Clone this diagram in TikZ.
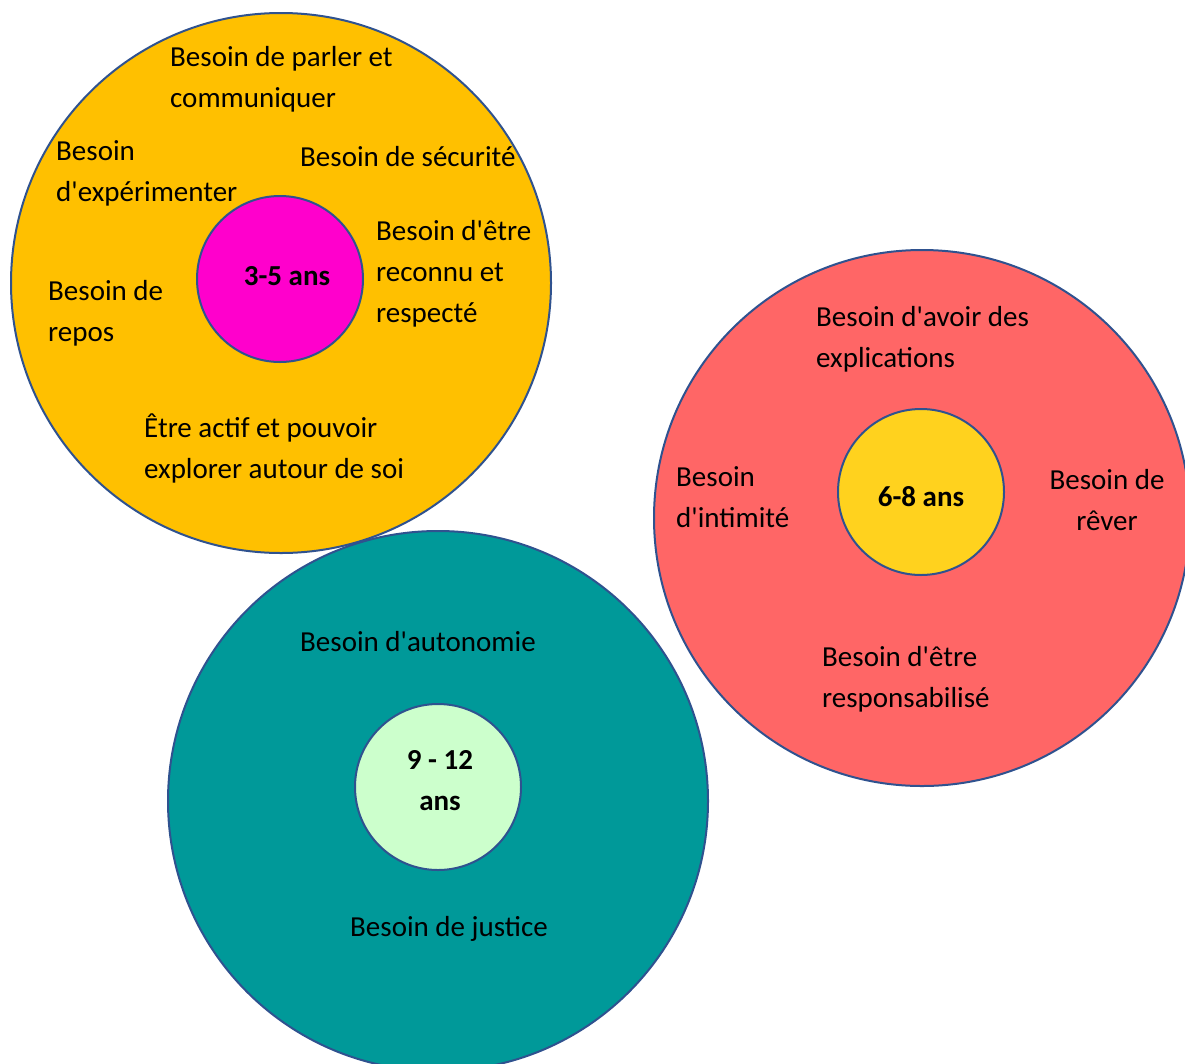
\documentclass[tikz,border=0pt]{standalone}
\usepackage{fontspec}
\setmainfont{Carlito}[Ligatures=TeXOff]
\definecolor{ringline}{RGB}{47,82,143}
\definecolor{orangefill}{RGB}{255,192,0}
\definecolor{magentafill}{RGB}{255,0,204}
\definecolor{coralfill}{RGB}{255,102,102}
\definecolor{yellowfill}{RGB}{255,210,30}
\definecolor{tealfill}{RGB}{0,153,153}
\definecolor{mintfill}{RGB}{204,255,204}
\begin{document}
\begin{tikzpicture}[x=1pt,y=-1pt]
\tikzstyle{ring} = [circle, draw=ringline, line width=2pt, minimum size=540pt, inner sep=0]
\tikzstyle{core} = [circle, draw=ringline, line width=2pt, minimum size=166pt, inner sep=0]
\tikzstyle{need} = [align=left, anchor=base west, inner sep=0, font=\fontsize{29}{41}\selectfont]
\tikzstyle{age} = [align=center, inner sep=0, font=\fontsize{29}{41}\selectfont\bfseries]

\useasboundingbox (0,0) rectangle (1185,1063);
\clip (0,0) rectangle (1185,1063);

% 3-5 ans (base = last line)
\node(ring35)[ring, fill=orangefill] at (281,283) {};
\node(core35)[core, fill=magentafill] at (280,279) {};
\node(age35)[age, xshift=7pt, yshift=3pt] at (core35) {3-5 ans};
\node(talk)[need] at (170,107.7) {Besoin de parler et\\communiquer};
\node(explore)[need] at (56,201.5) {Besoin\\d'expérimenter};
\node(safety)[need] at (300,166.5) {Besoin de sécurité};
\node(respect)[need] at (376,322.5) {Besoin d'être\\reconnu et\\respecté};
\node(rest)[need] at (48,341.5) {Besoin de\\repos};
\node(active)[need] at (144,478.5) {Être actif et pouvoir\\explorer autour de soi};

% 6-8 ans
\node(ring68)[ring, fill=coralfill, minimum size=536pt] at (922,518) {};
\node(core68)[core, fill=yellowfill] at (921,492) {};
\node(age68)[age, yshift=-5pt] at (core68) {6-8 ans};
\node(explain)[need] at (816,367.5) {Besoin d'avoir des\\explications};
\node(privacy)[need] at (676,527.5) {Besoin\\d'intimité};
\node(dream)[need, align=center, anchor=base] at (1107,530.5) {Besoin de\\rêver};
\node(duty)[need] at (822,707.5) {Besoin d'être\\responsabilisé};

% 9 - 12 ans
\node(ring912)[ring, fill=tealfill] at (438,801) {};
\node(core912)[core, fill=mintfill] at (438,787) {};
\node(age912)[age, xshift=2pt, yshift=6pt] at (core912) {9 - 12\\ans};
\node(autonomy)[need] at (300,651.5) {Besoin d'autonomie};
\node(justice)[need] at (350,936.5) {Besoin de justice};
\end{tikzpicture}
\end{document}
